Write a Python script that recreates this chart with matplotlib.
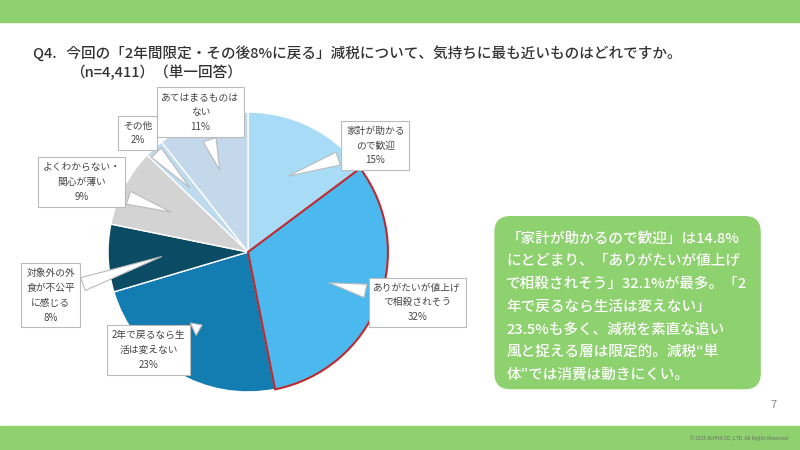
import matplotlib
matplotlib.use("Agg")
import matplotlib.pyplot as plt
import numpy as np
from matplotlib.patches import FancyBboxPatch, Rectangle

plt.rcParams['font.family'] = ['Noto Sans CJK JP', 'DejaVu Sans']

# data (clockwise from 12 o'clock)
labels = ["家計が助かる\nので歓迎\n15%", "ありがたいが値上げ\nで相殺されそう\n32%",
          "2年で戻るなら生\n活は変えない\n23%", "対象外の外\n食が不公平\nに感じる\n8%",
          "よくわからない・\n関心が薄い\n9%", "その他\n2%", "あてはまるものは\nない\n11%"]
values = [14.8, 32.1, 23.5, 7.8, 9.0, 2.2, 10.6]
colors = ["#a8dcf6", "#4cb9ee", "#137cb0", "#0b4b64", "#d3d3d3", "#bedbee", "#c3d8ea"]
label_pos = [(0.91, 0.76), (1.21, -0.36), (-0.71, -0.70), (-1.41, -0.31),
             (-1.19, 0.50), (-0.79, 0.85), (-0.34, 1.00)]

fig = plt.figure(figsize=(8, 4.5), dpi=100)
fig.patches.append(Rectangle((0, 0.951), 1, 0.049, transform=fig.transFigure, color="#8fd16f"))
fig.patches.append(Rectangle((0, 0), 1, 0.053, transform=fig.transFigure, color="#8fd16f"))

fig.text(0.041, 0.882, "Q4.   今回の「2年間限定・その後8%に戻る」減税について、気持ちに最も近いものはどれですか。",
         fontsize=10.5, fontweight="medium", color="#333333", va="center")
fig.text(0.087, 0.838, "（n=4,411）（単一回答）", fontsize=10.5, fontweight="medium", color="#333333", va="center")

ax = fig.add_axes([0.135, 0.129, 0.35, 0.622])
wedges, _ = ax.pie(values, colors=colors, startangle=90, counterclock=False, radius=1,
                   wedgeprops=dict(edgecolor="white", linewidth=1))
wedges[1].set_edgecolor("#c0282d")
wedges[1].set_linewidth(1.5)
wedges[1].set_zorder(3)
ax.set_xlim(-1, 1)
ax.set_ylim(-1, 1)
ax.set_aspect("equal")

ang = 90.0
for w, v, lab, pos in zip(wedges, values, labels, label_pos):
    mid = np.deg2rad(ang - v * 3.6 / 2)
    ang -= v * 3.6
    tgt = (0.6 * np.cos(mid), 0.6 * np.sin(mid))
    ax.annotate(lab, xy=tgt, xytext=pos, ha="center", va="center", fontsize=7,
                color="#444444", linespacing=1.6, annotation_clip=False, zorder=5,
                bbox=dict(boxstyle="square,pad=0.5", fc="white", ec="#bbbbbb", lw=0.8),
                arrowprops=dict(arrowstyle="wedge,tail_width=1.4,shrink_factor=0.5",
                                fc="white", ec="#bbbbbb", lw=0.8))

fig.patches.append(FancyBboxPatch((0.618, 0.135), 0.333, 0.385, transform=fig.transFigure,
                                  boxstyle="round,pad=0,rounding_size=0.02", fc="#8ed16f", ec="none",
                                  mutation_aspect=1.78))
note = ["「家計が助かるので歓迎」は14.8%", "にとどまり、「ありがたいが値上げ", "で相殺されそう」32.1%が最多。「2",
        "年で戻るなら生活は変えない」", "23.5%も多く、減税を素直な追い", "風と捉える層は限定的。減税“単",
        "体”では消費は動きにくい。"]
for i, line in enumerate(note):
    fig.text(0.633, 0.47 - i * 0.0505, line, fontsize=10.5, color="white", fontweight="medium", va="center")

fig.text(0.967, 0.093, "7", fontsize=8, color="#888888", ha="center")
fig.text(0.985, 0.022, "© 2025 ALPHA CO.,LTD. All Rights Reserved", fontsize=3.5, color="#666666", ha="right")

fig.savefig("out.png", dpi=100)
